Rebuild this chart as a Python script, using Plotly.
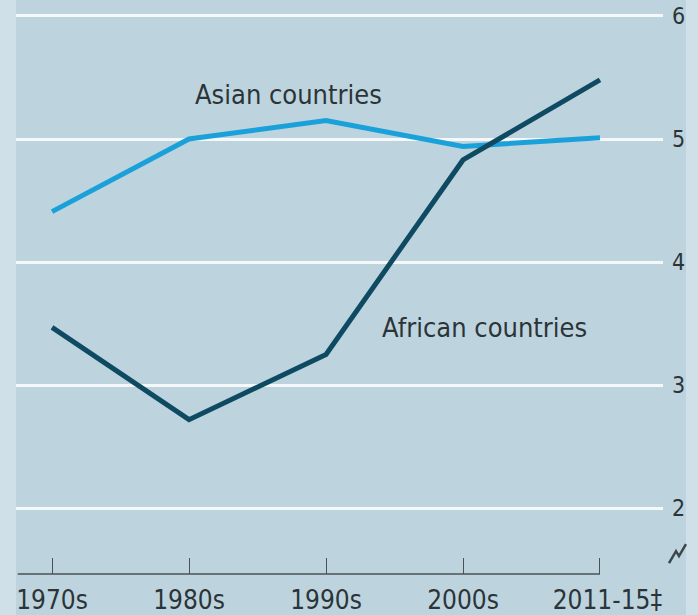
import plotly.graph_objects as go

periods = ["1970s", "1980s", "1990s", "2000s", "\u00a0\u00a02011-15‡"]
asian = [4.41, 5.0, 5.15, 4.94, 5.01]
african = [3.47, 2.72, 3.25, 4.83, 5.48]
y_ticks = [2, 3, 4, 5, 6]

xpos = list(range(len(periods)))
BG = "#bdd4df"
STRIP = "#cfe0e8"
FONT = "DejaVu Sans Condensed, DejaVu Sans, sans-serif"
TXT = "#2c3438"

# plot-area geometry in pixels, used for paper-coordinate decorations
L, R, T, B = 16, 35, 0, 39
PW, PH = 698 - L - R, 615 - T - B


def px(x):
    return (x - L) / PW


def py(y):
    return (T + PH - y) / PH


fig = go.Figure()
fig.add_trace(go.Scatter(x=xpos, y=asian, mode="lines",
                         line=dict(color="#1ba1da", width=5), hoverinfo="skip"))
fig.add_trace(go.Scatter(x=xpos, y=african, mode="lines",
                         line=dict(color="#0f4a63", width=5), hoverinfo="skip"))

fig.update_layout(
    width=698, height=615,
    margin=dict(l=L, r=R, t=T, b=B),
    paper_bgcolor=BG, plot_bgcolor=BG,
    showlegend=False,
    font=dict(family=FONT, color=TXT, size=22),
    xaxis=dict(range=[-0.263, 4.46], tickvals=xpos, ticktext=periods,
               showgrid=False, zeroline=False, showline=False,
               ticks="inside", ticklen=16, tickwidth=1.2, tickcolor="#4a5256",
               tickfont=dict(size=26), ticklabelstandoff=8, fixedrange=True),
    yaxis=dict(range=[1.466, 6.1296], tickvals=y_ticks, side="right",
               showgrid=True, gridcolor="#f4f8fa", gridwidth=2.5,
               zeroline=False, showline=False, ticks="",
               tickfont=dict(size=23), ticklabelstandoff=8, fixedrange=True),
)

# x-axis baseline
fig.add_shape(type="line", xref="x", yref="paper", x0=-0.25, x1=4, y0=0, y1=0,
              line=dict(color="#4a5256", width=1.3))
# lighter side strips
fig.add_shape(type="rect", xref="paper", yref="paper", x0=px(0), x1=px(0) + 16 / PW,
              y0=-1, y1=2, fillcolor=STRIP, line=dict(width=0), layer="below")
fig.add_shape(type="rect", xref="paper", yref="paper", x0=px(686), x1=px(700),
              y0=-1, y1=2, fillcolor=STRIP, line=dict(width=0), layer="below")

# axis break marker (zigzag)
pts = [(669, 565), (676, 553), (679, 558), (686, 546)]
path = "M " + " L ".join(f"{px(a):.4f},{py(b):.4f}" for a, b in pts)
fig.add_shape(type="path", xref="paper", yref="paper", path=path,
              line=dict(color="#3e464a", width=2.5))

fig.add_annotation(x=1.723, y=5.36, xref="x", yref="y", text="Asian countries",
                   showarrow=False, font=dict(size=27, color=TXT))
fig.add_annotation(x=3.16, y=3.465, xref="x", yref="y", text="African countries",
                   showarrow=False, font=dict(size=27, color=TXT))

fig.write_html("out.html")
